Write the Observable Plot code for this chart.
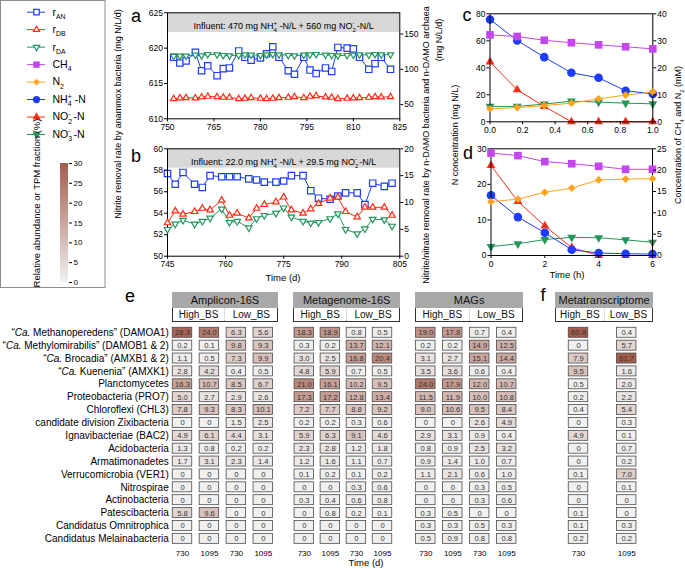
<!DOCTYPE html>
<html><head><meta charset="utf-8">
<script src="https://cdn.jsdelivr.net/npm/d3@7"></script>
<script src="https://cdn.jsdelivr.net/npm/@observablehq/plot@0.6"></script>
<style>
html,body{margin:0;padding:0;background:#fff;}
#root{position:relative;width:685px;height:569px;overflow:hidden;font-family:"Liberation Sans",Arial,sans-serif;background:#fff;}
#root svg{position:absolute;left:0;top:0;overflow:visible;}
.hdr{position:absolute;box-sizing:border-box;text-align:center;color:#111;white-space:nowrap;}
</style></head><body><div id="root"></div>
<script>
// ================= DATA =================
// Panel a (reactor with high influent)
const aDay = [752,754,756,759,761,763,766,768,770,773,775,777,780,782,784,786,789,791,794,796,798,801,803,805,808,810,812,815,817,819,822];
const aRateAN = [618.7,617.9,618.2,619.4,616.8,617.5,616.1,617.1,617.2,619.6,618.7,618.3,618.6,619.2,620.2,618.7,616.8,616.3,618.7,616.9,616.4,617.2,616.7,620.1,620.0,619.9,618.7,617.0,617.8,618.7,617.0];
const aRateDB = [58.3,59.3,59.7,59.3,60.6,61.6,61.1,60.2,60.2,58.3,58.8,59.7,58.8,58.3,58.8,59.7,60.2,61.1,59.7,61.6,62.5,60.6,60.2,58.3,58.8,59.3,59.7,60.2,61.1,60.6,61.1];
const aRateDA = [118.5,119.0,119.0,120.4,119.4,121.3,120.8,119.9,119.4,119.9,120.8,120.4,119.9,120.8,121.3,120.8,119.9,119.4,120.4,120.8,121.3,120.4,119.9,119.4,119.9,120.4,120.8,120.4,121.3,120.8,120.8];
const aInfluent = "Influent: 470 mg NH_{4}^{+} -N/L + 560 mg NO_{2}^{-} -N/L";
const aX = [750, 825], aXTicks = [750,765,780,795,810,825];
const aY = [610, 625], aYTicks = [610,615,620,625];
const aY2 = [30, 180], aY2Ticks = [50,100,150];
const aBand = [622.2, 625];

// Panel b (reactor with low influent)
const bDay = [745,747,749,752,754,756,759,761,763,766,768,770,773,775,777,780,782,784,787,789,791,794,796,798,801,803];
const bRateAN = [57.7,56.7,57.8,56.7,56.4,57.5,57.4,57.4,57.4,57.2,57.1,56.9,56.9,57.0,57.5,57.5,56.1,55.4,55.3,55.6,55.9,55.9,54.8,56.8,56.5,56.8];
const bRateDB = [6.2,8.4,7.8,8.3,8.9,8.6,10.4,7.6,8.0,7.1,8.9,9.6,10.1,11.0,8.6,8.0,8.8,9.8,10.8,11.0,8.3,7.3,9.1,9.1,9.1,7.6];
const bRateDA = [5.0,6.0,6.7,6.0,6.5,7.1,8.8,6.3,6.5,5.3,7.0,7.6,8.0,9.0,7.3,6.5,6.2,6.3,7.0,7.9,5.0,4.2,5.1,6.9,6.8,5.6];
const bInfluent = "Influent: 22.0 mg NH_{4}^{+} -N/L + 29.5 mg NO_{2}^{-} -N/L";
const bX = [745, 805], bXTicks = [745,760,775,790,805];
const bY = [50, 60], bYTicks = [50,52,54,56,58,60];
const bY2 = [0, 20], bY2Ticks = [0,5,10,15,20];
const bBand = [58.2, 60];

// Panel c (batch test, high)
const cTime = [0, 0.167, 0.333, 0.5, 0.667, 0.833, 1.0];
const cNH4 = [75.8,60.2,47.9,36.3,32.6,23.0,20.7];
const cNO2 = [44.4,23.7,11.4,0,0,0,0];
const cNO3 = [11.4,11.4,13.1,15.3,14.6,13.8,13.3];
const cN2  = [4.8,5.3,6.0,6.9,8.5,9.9,11.0];
const cCH4 = [32.2,31.6,30.2,29.3,28.5,27.8,27.0];
const cX = [0, 1], cXTicks = [0,0.2,0.4,0.6,0.8,1.0];
const cY = [0, 80], cYTicks = [0,20,40,60,80];
const cY2 = [0, 40], cY2Ticks = [0,10,20,30,40];

// Panel d (batch test, low)
const dTime = [0,1,2,3,4,5,6];
const dNH4 = [16.9,10.8,6.4,1.6,0.7,0.5,0.4];
const dNO2 = [25.3,15.2,8.3,2.2,0,0,0];
const dNO3 = [2.5,3.3,4.5,5.1,5.0,4.4,3.7];
const dN2  = [12.6,13.2,14.8,15.8,17.7,17.9,18.0];
const dCH4 = [24.0,23.4,22.0,21.5,20.9,20.2,20.2];
const dX = [0, 6], dXTicks = [0,2,4,6];
const dY = [0, 30], dYTicks = [0,10,20,30];
const dY2 = [0, 25], dY2Ticks = [0,5,10,15,20,25];

// Legend
const legendKeys = ["r_{AN}","r_{DB}","r_{DA}","CH_{4}","N_{2}","NH_{4}^{+} -N","NO_{2}^{-} -N","NO_{3}^{-} -N"];

// Heatmaps (e, f)
const heatRows = [
  "“Ca. Methanoperedens” (DAMOA1)",
  "“Ca. Methylomirabilis” (DAMOB1 & 2)",
  "“Ca. Brocadia” (AMXB1 & 2)",
  "“Ca. Kuenenia” (AMXK1)",
  "Planctomycetes",
  "Proteobacteria (PRO7)",
  "Chloroflexi (CHL3)",
  "candidate division Zixibacteria",
  "Ignavibacteriae (BAC2)",
  "Acidobacteria",
  "Armatimonadetes",
  "Verrucomicrobia (VER1)",
  "Nitrospirae",
  "Actinobacteria",
  "Patescibacteria",
  "Candidatus Omnitrophica",
  "Candidatus Melainabacteria"
];
const cols4 = ["High_BS 730","High_BS 1095","Low_BS 730","Low_BS 1095"];
const cols2 = ["High_BS 730","Low_BS 1095"];
const amplicon16S = [
  [28.3,24.0,6.3,5.6],[0.2,0.1,9.8,9.3],[1.1,0.5,7.3,9.9],[2.8,4.2,0.4,0.5],
  [16.3,10.7,8.5,6.7],[5.0,2.7,2.9,2.6],[7.8,9.3,8.3,10.1],[0,0,1.5,2.5],
  [4.9,6.1,4.4,3.1],[1.3,0.8,0.2,0.2],[1.7,3.1,2.3,1.4],[0,0,0,0],
  [0,0,0,0],[0,0,0,0],[5.8,9.6,0,0],[0,0,0,0],[0,0,0,0]
];
const metagenome16S = [
  [18.3,18.9,0.8,0.5],[0.3,0.2,13.7,12.1],[3.0,2.5,16.8,20.4],[4.8,5.9,0.7,0.5],
  [21.0,16.1,10.2,9.5],[17.3,17.2,12.8,13.4],[7.2,7.7,8.8,9.2],[0.2,0.2,0.3,0.6],
  [5.9,6.3,9.1,4.6],[2.3,2.8,1.2,1.8],[1.2,1.6,1.1,0.7],[0.1,0.2,0.1,0.2],
  [0,0,0.3,0.6],[0.3,0.4,0.6,0.8],[0,0.8,0.2,0.1],[0,0,0,0],[0,0,0,0]
];
const mags = [
  [19.0,17.8,0.7,0.4],[0.2,0.2,14.9,12.5],[3.1,2.7,15.1,14.4],[3.5,3.6,0.6,0.4],
  [24.0,17.9,12.0,10.7],[11.5,11.9,10.0,10.8],[9.0,10.6,9.5,8.4],[0,0,2.6,4.9],
  [2.9,3.1,0.9,0.4],[0.8,0.9,2.5,3.2],[0.9,1.4,1.0,0.7],[1.1,2.1,0.6,1.0],
  [0,0,0.3,0.5],[0,0,0.3,0.6],[0.3,0.5,0,0],[0.3,0.3,0.5,0.3],[0.5,0.9,0.8,0.8]
];
const metatranscriptome = [
  [60.8,0.4],[0,5.7],[7.9,61.7],[9.5,1.6],[0.5,2.0],[0.2,2.2],[0.4,5.4],[0,0.3],
  [4.9,0.1],[0,0.7],[0,0.2],[0.1,7.0],[0,0.1],[0,0],[0.1,0],[0.1,0.3],[0.2,0.2]
];
const cbTicks = [0,5,10,15,20,25,30];

// ================= STYLE / LAYOUT =================
const W = 685, H = 569;
const FONT = "'Liberation Sans', Arial, Helvetica, sans-serif";
const C = {blue:"#1d3cff", red:"#ff2b12", green:"#23965c", purple:"#c546ee", orange:"#ffa31e"};
const TK = 8.5;
const root = document.getElementById("root");
const baseStyle = {fontFamily: FONT, fontSize: "9px", background: "transparent", overflow: "visible", color: "#000"};
function frameOpts([x0, x1, y0, y1]) {
  return {width: W, height: H, marginLeft: x0, marginRight: W - x1, marginTop: y0, marginBottom: H - y1, style: baseStyle};
}
function show(svg) { root.appendChild(svg); return svg; }
const heatColor = {type: "linear", domain: [0, 30], range: ["#f0f0f0", "#a45c4b"], clamp: true};

function rowsOf(x, ys) { return x.map((v, i) => ({x: v, ...Object.fromEntries(Object.entries(ys).map(([k, arr]) => [k, arr[i]]))})); }

function seriesMarks(rows, key, color, sym, {open = false, r = 4, rotate = 0, lw = 1} = {}) {
  return [
    Plot.line(rows, {x: "x", y: key, stroke: color, strokeWidth: lw}),
    Plot.dot(rows, {x: "x", y: key, symbol: sym, r, rotate, stroke: open ? color : "none", fill: open ? "white" : color, strokeWidth: open ? 1.2 : 0})
  ];
}

function dual({frame, xd, xt, xf, yd, yt, y2d, y2t, left, right, band, bandText}) {
  const pre = [];
  if (band) {
    pre.push(Plot.rect([band], {x1: xd[0], x2: xd[1], y1: d => d[0], y2: d => d[1], fill: "#d8d8d8"}));
    pre.push(Plot.text([bandText], {text: d => d, frameAnchor: "top", dy: (frame[3] - frame[2]) * (band[1] - band[0]) / (yd[1] - yd[0]) / 2, fontSize: 9}));
  }
  show(Plot.plot({
    ...frameOpts(frame),
    x: {domain: xd}, y: {domain: yd},
    marks: [
      ...pre,
      ...left,
      Plot.frame({stroke: "#000", strokeWidth: 1}),
      Plot.axisX({ticks: xt, tickFormat: xf, tickSize: 3, tickPadding: 2, fontSize: TK, label: null}),
      Plot.axisY({ticks: yt, tickSize: 3, tickPadding: 1.5, fontSize: TK, label: null})
    ]
  }));
  show(Plot.plot({
    ...frameOpts(frame),
    x: {domain: xd, axis: null}, y: {domain: y2d},
    marks: [
      ...right,
      Plot.axisY({anchor: "right", ticks: y2t, tickSize: 3, tickPadding: 1.5, fontSize: TK, label: null})
    ]
  }));
}

// ---- panel a
const aRows = rowsOf(aDay, {an: aRateAN, db: aRateDB, da: aRateDA});
dual({frame: [167, 399.3, 12.3, 118.3], xd: aX, xt: aXTicks, xf: d => d, yd: aY, yt: aYTicks, y2d: aY2, y2t: aY2Ticks,
  band: aBand, bandText: aInfluent,
  left: seriesMarks(aRows, "an", C.blue, "square", {open: true, r: 3.6}),
  right: [...seriesMarks(aRows, "da", C.green, "triangle", {open: true, r: 2.3, rotate: 180}),
          ...seriesMarks(aRows, "db", C.red, "triangle", {open: true, r: 2.3})]});

// ---- panel b
const bRows = rowsOf(bDay, {an: bRateAN, db: bRateDB, da: bRateDA});
dual({frame: [167, 399.3, 148.3, 255.7], xd: bX, xt: bXTicks, xf: d => d, yd: bY, yt: bYTicks, y2d: bY2, y2t: bY2Ticks,
  band: bBand, bandText: bInfluent,
  left: seriesMarks(bRows, "an", C.blue, "square", {open: true, r: 3.6}),
  right: [...seriesMarks(bRows, "da", C.green, "triangle", {open: true, r: 2.4, rotate: 180}),
          ...seriesMarks(bRows, "db", C.red, "triangle", {open: true, r: 2.4})]});

// ---- panel c
const cRows = rowsOf(cTime, {nh4: cNH4, no2: cNO2, no3: cNO3, n2: cN2, ch4: cCH4});
dual({frame: [489.5, 652.3, 13.3, 121.3], xd: cX, xt: cXTicks, xf: d3.format(".1f"), yd: cY, yt: cYTicks, y2d: cY2, y2t: cY2Ticks,
  left: [...seriesMarks(cRows, "no3", C.green, "triangle", {r: 3.3, rotate: 180}),
         ...seriesMarks(cRows, "no2", C.red, "triangle", {r: 3.3}),
         ...seriesMarks(cRows, "nh4", C.blue, "circle", {r: 4.3})],
  right: [...seriesMarks(cRows, "ch4", C.purple, "square", {r: 4.3}),
          ...seriesMarks(cRows, "n2", C.orange, "diamond2", {r: 3.5})]});

// ---- panel d
const dRows = rowsOf(dTime, {nh4: dNH4, no2: dNO2, no3: dNO3, n2: dN2, ch4: dCH4});
dual({frame: [490.5, 652, 148.3, 255], xd: dX, xt: dXTicks, xf: d => d, yd: dY, yt: dYTicks, y2d: dY2, y2t: dY2Ticks,
  left: [...seriesMarks(dRows, "no3", C.green, "triangle", {r: 3.3, rotate: 180}),
         ...seriesMarks(dRows, "no2", C.red, "triangle", {r: 3.3}),
         ...seriesMarks(dRows, "nh4", C.blue, "circle", {r: 4.3})],
  right: [...seriesMarks(dRows, "ch4", C.purple, "square", {r: 4.3}),
          ...seriesMarks(dRows, "n2", C.orange, "diamond2", {r: 3.5})]});

// ---- legend
const legendStyle = [
  {c: C.blue, s: "square", open: true, r: 3.1},
  {c: C.red, s: "triangle", open: true, r: 2.3},
  {c: C.green, s: "triangle", open: true, r: 2.3, rot: 180},
  {c: C.purple, s: "square", r: 3.6},
  {c: C.orange, s: "diamond2", r: 3.0},
  {c: C.blue, s: "circle", r: 3.6},
  {c: C.red, s: "triangle", r: 3.0},
  {c: C.green, s: "triangle", r: 3.0, rot: 180}
];
show(Plot.plot({
  ...frameOpts([27, 45, 11.7, 134]),
  x: {domain: [0, 1], axis: null},
  y: {type: "point", domain: legendKeys, padding: 0, round: false, axis: null},
  marks: legendKeys.flatMap((k, i) => {
    const s = legendStyle[i];
    return [
      Plot.ruleY([k], {y: d => d, x1: 0, x2: 1, stroke: s.c, strokeWidth: 1}),
      Plot.dot([k], {y: d => d, x: 0.5, symbol: s.s, r: s.r, rotate: s.rot || 0,
        fill: s.open ? "white" : s.c, stroke: s.open ? s.c : "none", strokeWidth: s.open ? 1.2 : 0}),
      Plot.text([k], {y: d => d, x: 1, text: d => d, textAnchor: "start", dx: 7, fontSize: 10.5})
    ];
  })
}));

// ---- colorbar
const cbPlot = show(Plot.plot({
  ...frameOpts([60, 68, 163, 282]),
  x: {domain: [0, 1], axis: null},
  y: {domain: heatColor.domain},
  marks: [
    Plot.rect([heatColor.domain], {x1: 0, x2: 1, y1: d => d[0], y2: d => d[1], fill: "url(#cbgrad)"}),
    Plot.axisY({anchor: "right", ticks: cbTicks, tickSize: 3, tickPadding: 2, fontSize: 8, label: null})
  ]
}));
{
  const cs = Plot.scale({color: heatColor});
  const ns = "http://www.w3.org/2000/svg";
  const defs = document.createElementNS(ns, "defs");
  const lg = document.createElementNS(ns, "linearGradient");
  lg.setAttribute("id", "cbgrad"); lg.setAttribute("x1", "0"); lg.setAttribute("y1", "1"); lg.setAttribute("x2", "0"); lg.setAttribute("y2", "0");
  heatColor.domain.forEach((v, i) => {
    const st = document.createElementNS(ns, "stop");
    st.setAttribute("offset", i); st.setAttribute("stop-color", cs.apply(v));
    lg.appendChild(st);
  });
  defs.appendChild(lg); cbPlot.insertBefore(defs, cbPlot.firstChild);
}

// ---- heatmaps
const HY = [324.4, 546.2], HPAD = 0.223, BW = 19.5;
function bandFrame(c0, cN, n) { const step = (cN - c0) / (n - 1); const p = 1 - BW / step; return {x0: c0 - BW / 2, x1: c0 - BW / 2 + step * (n - p), p}; }
const fmtCell = v => v === 0 ? "0" : v.toFixed(1);
function heat(cols, matrix, c0, cN, rowAxis) {
  const f = bandFrame(c0, cN, cols.length);
  const data = [];
  heatRows.forEach((r, i) => cols.forEach((c, j) => data.push({row: r, col: c, v: matrix[i][j]})));
  const marks = [
    Plot.cell(data, {x: "col", y: "row", fill: "v", stroke: "#4a4a4a", strokeWidth: 0.8}),
    Plot.text(data, {x: "col", y: "row", text: d => fmtCell(d.v), fontSize: 7.6, fill: "#333"}),
    Plot.axisX({anchor: "bottom", tickSize: 0, tickPadding: 3.6, fontSize: 8, tickFormat: d => d.split(" ")[1], label: null})
  ];
  if (rowAxis) marks.push(Plot.axisY({tickSize: 0, tickPadding: 4, fontSize: 10, tickFormat: d => d.replace("Ca.", "*Ca.*"), label: null}));
  show(Plot.plot({
    ...frameOpts([f.x0, f.x1, HY[0], HY[1]]),
    x: {domain: cols, paddingInner: f.p, paddingOuter: 0, round: false},
    y: {domain: heatRows, padding: HPAD, round: false, axis: rowAxis ? undefined : null},
    color: heatColor,
    marks
  }));
}
heat(cols4, amplicon16S, 182, 262.8, true);
heat(cols4, metagenome16S, 303.8, 382, false);
heat(cols4, mags, 425.3, 506.2, false);
heat(cols2, metatranscriptome, 578, 626.2, false);

function header(x0, x1, title) {
  const g = document.createElement("div"); g.className = "hdr";
  g.style.cssText = `left:${x0}px;top:292.3px;width:${x1 - x0}px;height:16px;background:#a8a8a8;font-size:11px;line-height:16px;`;
  g.textContent = title; root.appendChild(g);
  const w = document.createElement("div"); w.className = "hdr";
  w.style.cssText = `left:${x0}px;top:308.3px;width:${x1 - x0}px;height:14px;border:1px solid #333;border-top:none;background:#fff;display:flex;font-size:10px;line-height:13px;`;
  ["High_BS", "Low_BS"].forEach((t, i) => {
    const s = document.createElement("span");
    s.style.cssText = `flex:1;text-align:center;${i ? "border-left:1px dotted #bbb;" : ""}`;
    s.textContent = t; w.appendChild(s);
  });
  root.appendChild(w);
}
header(171.7, 278.3, "Amplicon-16S");
header(293.3, 400, "Metagenome-16S");
header(415, 523.3, "MAGs");
header(555, 653.3, "Metatranscriptome");

// ---- annotations (panel letters, axis titles, legend frame)
const ann = d3.create("svg").attr("width", W).attr("height", H).style("font-family", FONT);
ann.append("rect").attr("x", 0.5).attr("y", 0.5).attr("width", 104.5).attr("height", 287).attr("fill", "none").attr("stroke", "#8c8c8c");
function txt(x, y, s, size, rot) {
  const t = ann.append("text").attr("x", x).attr("y", y).attr("font-size", size).attr("text-anchor", "middle").attr("dy", "0.35em").text(s);
  if (rot) t.attr("transform", `rotate(${rot},${x},${y})`);
  return t;
}
[["a",136,16],["b",136,156],["c",467,15],["d",468,153],["e",130,296],["f",543,295]].forEach(([l,x,y]) => txt(x, y, l, 18));
txt(118, 114, "Nitrite removal rate by anammox bacteria (mg N/L/d)", 9, -90);
txt(426, 145, "Nitrite/nitrate removal rate by n-DAMO bacteria and n-DAMO archaea", 9, -90);
txt(439, 40, "(mg N/L/d)", 9, -90);
txt(283, 278, "Time (d)", 9.5);
txt(455, 135, "N concentration (mg N/L)", 9, -90);
txt(678, 135, "Concentration of CH_{4} and N_{2} (mM)", 9, -90);
txt(567, 275, "Time (h)", 9.5);
txt(37, 203, "Relative abundance or TPM fraction (%)", 9.5, -90);
txt(366, 563, "Time (d)", 9.5);
root.appendChild(ann.node());

// ---- rich text: sub/superscripts and italics
function richify(svgEl) {
  svgEl.querySelectorAll("text").forEach(t => {
    const targets = t.querySelector("tspan") ? Array.from(t.querySelectorAll("tspan")) : [t];
    targets.forEach(el => {
      const s = el.textContent;
      if (!/[_^]\{|\*/.test(s)) return;
      const parts = []; const re = /([_^])\{([^}]*)\}|\*([^*]+)\*/g; let last = 0, m;
      while ((m = re.exec(s))) {
        if (m.index > last) parts.push({k: "n", s: s.slice(last, m.index)});
        if (m[3] !== undefined) parts.push({k: "it", s: m[3]});
        else parts.push({k: m[1] === "_" ? "sub" : "sup", s: m[2]});
        last = re.lastIndex;
      }
      if (last < s.length) parts.push({k: "n", s: s.slice(last)});
      const fs = parseFloat(getComputedStyle(el).fontSize) || 10;
      el.textContent = "";
      let cur = 0, prev = null;
      for (const p of parts) {
        const ts = document.createElementNS("http://www.w3.org/2000/svg", "tspan");
        const target = p.k === "sub" ? 0.3 * fs : p.k === "sup" ? -0.42 * fs : 0;
        if (target !== cur) ts.setAttribute("dy", target - cur);
        cur = target;
        if (p.k === "sub" || p.k === "sup") ts.setAttribute("font-size", 0.66 * fs);
        if (p.k === "it") ts.setAttribute("font-style", "italic");
        ts.textContent = p.s;
        el.appendChild(ts);
        if (p.k === "sup" && prev && prev.k === "sub") ts.setAttribute("dx", -prev.el.getComputedTextLength());
        prev = {k: p.k, el: ts};
      }
    });
  });
}
root.querySelectorAll("svg").forEach(richify);
</script></body></html>
